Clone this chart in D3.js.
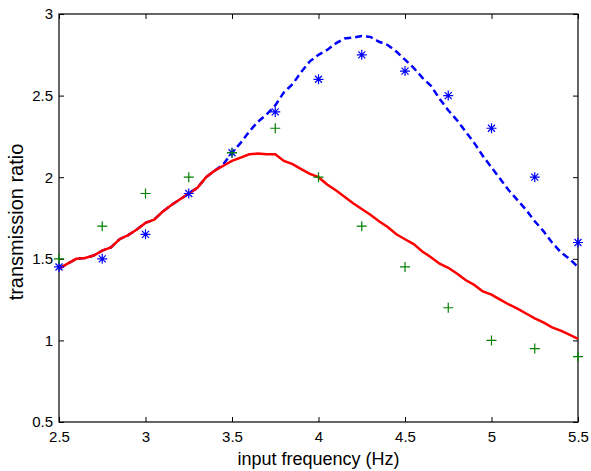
<!DOCTYPE html>
<html>
<head>
<meta charset="utf-8">
<script src="https://cdn.jsdelivr.net/npm/d3@7"></script>
<style>
  body { margin: 0; background: #fff; }
  svg text { font-family: "Liberation Sans", Arial, sans-serif; fill: #000; }
</style>
</head>
<body>
<div id="chart"></div>
<script>
// measured points
const measFreq = [2.5, 2.75, 3, 3.25, 3.5, 3.75, 4, 4.25, 4.5, 4.75, 5, 5.25, 5.5];
const starVals = [1.45, 1.5, 1.65, 1.9, 2.15, 2.4, 2.6, 2.75, 2.65, 2.5, 2.3, 2.0, 1.6];
const plusVals = [1.5, 1.7, 1.9, 2.0, 2.15, 2.3, 2.0, 1.7, 1.45, 1.2, 1.0, 0.95, 0.9];

// model curves
const curveFreq = [2.5, 2.55, 2.6, 2.65, 2.7, 2.75, 2.8, 2.85, 2.9, 2.95, 3.0, 3.05, 3.1, 3.15, 3.2, 3.25,
  3.3, 3.35, 3.4, 3.45, 3.5, 3.55, 3.6, 3.65, 3.7, 3.75, 3.8, 3.85, 3.9, 3.95, 4.0, 4.05, 4.1, 4.15, 4.2,
  4.25, 4.3, 4.35, 4.4, 4.45, 4.5, 4.55, 4.6, 4.65, 4.7, 4.75, 4.8, 4.85, 4.9, 4.95, 5.0, 5.05, 5.1, 5.15,
  5.2, 5.25, 5.3, 5.35, 5.4, 5.45, 5.5];
const redVals = [1.44, 1.47, 1.50, 1.505, 1.52, 1.55, 1.57, 1.62, 1.645, 1.68, 1.72, 1.74, 1.79, 1.83, 1.865, 1.90,
  1.935, 2.0, 2.04, 2.07, 2.10, 2.12, 2.14, 2.145, 2.14, 2.14, 2.10, 2.08, 2.05, 2.02, 2.0, 1.955, 1.92, 1.88, 1.84,
  1.805, 1.77, 1.73, 1.695, 1.65, 1.62, 1.59, 1.545, 1.51, 1.47, 1.445, 1.41, 1.37, 1.34, 1.30, 1.28, 1.25, 1.22, 1.195,
  1.165, 1.135, 1.11, 1.08, 1.06, 1.035, 1.01];
const blueVals = [1.44, 1.47, 1.50, 1.505, 1.52, 1.55, 1.57, 1.62, 1.645, 1.68, 1.72, 1.74, 1.79, 1.83, 1.865, 1.90,
  1.935, 2.0, 2.04, 2.08, 2.15, 2.21, 2.28, 2.34, 2.385, 2.44, 2.52, 2.57, 2.645, 2.71, 2.75, 2.78, 2.82, 2.85, 2.855,
  2.865, 2.86, 2.83, 2.81, 2.77, 2.72, 2.67, 2.61, 2.56, 2.48, 2.41, 2.35, 2.28, 2.21, 2.13, 2.06, 1.99, 1.92, 1.86,
  1.80, 1.73, 1.67, 1.60, 1.54, 1.50, 1.45];

const xTicks = [2.5, 3, 3.5, 4, 4.5, 5, 5.5];
const yTicks = [0.5, 1, 1.5, 2, 2.5, 3];

const width = 591, height = 471;
const margin = { top: 14, right: 13, bottom: 49, left: 59 };
const w = width - margin.left - margin.right;
const h = height - margin.top - margin.bottom;

const svg = d3.select('#chart').append('svg')
  .attr('width', width)
  .attr('height', height);

const x = d3.scaleLinear().domain([2.5, 5.5]).range([0, w]);
const y = d3.scaleLinear().domain([0.5, 3]).range([h, 0]);

const g = svg.append('g')
  .attr('transform', `translate(${margin.left},${margin.top})`);

// axes, ticks pointing inward
const fmt = d => String(d);
const styleAxis = sel => {
  sel.select('.domain').remove();
  sel.selectAll('line').attr('stroke', '#000');
  sel.selectAll('text').attr('font-size', 15).attr('fill', '#000');
};

g.append('g').attr('transform', `translate(0,${h})`)
  .call(d3.axisBottom(x).tickValues(xTicks).tickFormat(fmt).tickSizeInner(-5).tickSizeOuter(0).tickPadding(9))
  .call(styleAxis);
g.append('g')
  .call(d3.axisTop(x).tickValues(xTicks).tickFormat('').tickSizeInner(-5).tickSizeOuter(0))
  .call(styleAxis);
g.append('g')
  .call(d3.axisLeft(y).tickValues(yTicks).tickFormat(fmt).tickSizeInner(-5).tickSizeOuter(0).tickPadding(6))
  .call(styleAxis);
g.append('g').attr('transform', `translate(${w},0)`)
  .call(d3.axisRight(y).tickValues(yTicks).tickFormat('').tickSizeInner(-5).tickSizeOuter(0))
  .call(styleAxis);

g.append('rect')
  .attr('width', w).attr('height', h)
  .attr('fill', 'none').attr('stroke', '#000').attr('stroke-width', 1.2);

const line = d3.line().x(d => x(d[0])).y(d => y(d[1]));

g.append('path')
  .datum(curveFreq.map((f, i) => [f, blueVals[i]]))
  .attr('d', line)
  .attr('fill', 'none')
  .attr('stroke', '#0000ff')
  .attr('stroke-width', 2.5)
  .attr('stroke-dasharray', '7,4');

g.append('path')
  .datum(curveFreq.map((f, i) => [f, redVals[i]]))
  .attr('d', line)
  .attr('fill', 'none')
  .attr('stroke', '#ff0000')
  .attr('stroke-width', 2.5);

// star markers
const s = 5, d = 3.5;
g.append('g').selectAll('path')
  .data(measFreq.map((f, i) => [f, starVals[i]]))
  .join('path')
  .attr('d', p => {
    const cx = x(p[0]), cy = y(p[1]);
    return `M${cx - s},${cy}H${cx + s}M${cx},${cy - s}V${cy + s}` +
      `M${cx - d},${cy - d}L${cx + d},${cy + d}M${cx - d},${cy + d}L${cx + d},${cy - d}`;
  })
  .attr('stroke', '#0000ff')
  .attr('stroke-width', 1.2);

// plus markers
g.append('g').selectAll('path')
  .data(measFreq.map((f, i) => [f, plusVals[i]]))
  .join('path')
  .attr('d', p => {
    const cx = x(p[0]), cy = y(p[1]);
    return `M${cx - s},${cy}H${cx + s}M${cx},${cy - s}V${cy + s}`;
  })
  .attr('stroke', '#008000')
  .attr('stroke-width', 1.2);

// axis labels
svg.append('text')
  .attr('x', margin.left + w / 2)
  .attr('y', 465)
  .attr('text-anchor', 'middle')
  .attr('font-size', 18)
  .text('input frequency (Hz)');

svg.append('text')
  .attr('transform', 'translate(23,222) rotate(-90)')
  .attr('text-anchor', 'middle')
  .attr('font-size', 20)
  .text('transmission ratio');
</script>
</body>
</html>
